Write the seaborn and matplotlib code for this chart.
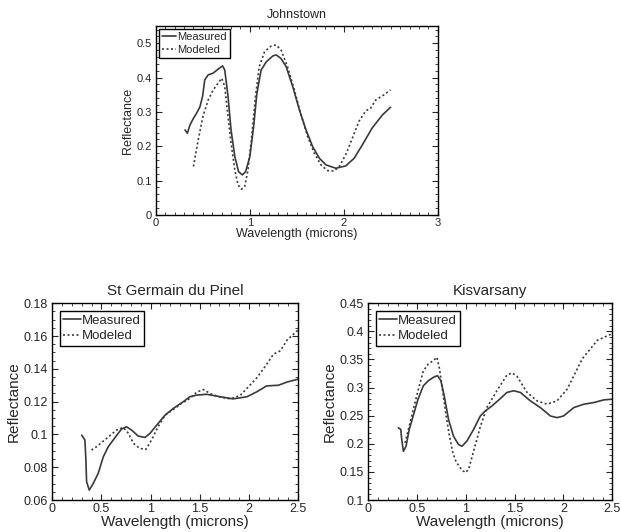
import numpy as np
import pandas as pd
import seaborn as sns
import matplotlib.pyplot as plt
from matplotlib.ticker import MultipleLocator, FormatStrFormatter

# Johnstown
jt_meas_x = [0.31, 0.335, 0.363, 0.40, 0.433, 0.469, 0.497, 0.52, 0.557, 0.61, 0.66, 0.71, 0.733,
             0.768, 0.80, 0.84, 0.88, 0.92, 0.955, 1.0, 1.04, 1.075, 1.12, 1.175, 1.245, 1.28,
             1.33, 1.386, 1.456, 1.527, 1.598, 1.668, 1.74, 1.81, 1.915, 2.02, 2.11, 2.197,
             2.30, 2.41, 2.497]
jt_meas_y = [0.2475, 0.238, 0.262, 0.2815, 0.296, 0.315, 0.345, 0.393, 0.408, 0.413, 0.424, 0.434, 0.422,
             0.345, 0.2475, 0.170, 0.126, 0.1165, 0.126, 0.170, 0.257, 0.354, 0.422, 0.446, 0.463, 0.466,
             0.456, 0.432, 0.374, 0.306, 0.2475, 0.199, 0.165, 0.1456, 0.136, 0.1427, 0.165, 0.204,
             0.2525, 0.291, 0.3136]
jt_mod_x = [0.40, 0.45, 0.50, 0.557, 0.61, 0.66, 0.70, 0.733, 0.768, 0.80, 0.84, 0.875, 0.91, 0.945,
            0.98, 1.016, 1.06, 1.10, 1.157, 1.227, 1.28, 1.333, 1.40, 1.474, 1.545, 1.615, 1.686,
            1.757, 1.827, 1.897, 1.95, 2.02, 2.09, 2.16, 2.233, 2.286, 2.34, 2.41, 2.497]
jt_mod_y = [0.141, 0.218, 0.286, 0.335, 0.364, 0.383, 0.398, 0.374, 0.286, 0.209, 0.131, 0.087, 0.075, 0.082,
            0.131, 0.218, 0.345, 0.432, 0.4755, 0.492, 0.495, 0.480, 0.432, 0.364, 0.291, 0.228, 0.180,
            0.1456, 0.129, 0.128, 0.141, 0.175, 0.223, 0.272, 0.303, 0.311, 0.335, 0.3465, 0.364]

# St Germain du Pinel
sg_meas_x = [0.30, 0.333, 0.343, 0.35, 0.377, 0.418, 0.468, 0.52, 0.57, 0.64, 0.705, 0.756, 0.807,
             0.875, 0.944, 0.995, 1.063, 1.148, 1.232, 1.334, 1.40, 1.47, 1.57, 1.71, 1.84, 1.98,
             2.08, 2.18, 2.30, 2.39, 2.50]
sg_meas_y = [0.0996, 0.0966, 0.0844, 0.0712, 0.0661, 0.0702, 0.0763, 0.0864, 0.0925, 0.0982, 0.1033, 0.1047, 0.1027,
             0.0990, 0.0982, 0.1007, 0.1057, 0.1118, 0.1159, 0.1200, 0.1230, 0.1240, 0.1245, 0.1230, 0.1217, 0.1230,
             0.1260, 0.1296, 0.1300, 0.1320, 0.1337]
sg_mod_x = [0.40, 0.45, 0.553, 0.655, 0.724, 0.775, 0.826, 0.89, 0.953, 1.01, 1.077, 1.148, 1.248, 1.316,
            1.40, 1.47, 1.54, 1.61, 1.71, 1.81, 1.91, 2.01, 2.08, 2.18, 2.25, 2.32, 2.39, 2.50]
sg_mod_y = [0.0905, 0.0925, 0.0976, 0.1027, 0.1043, 0.1007, 0.0946, 0.0915, 0.0909, 0.0966, 0.1047, 0.1118, 0.1159, 0.1190,
            0.1220, 0.1258, 0.1274, 0.1248, 0.1227, 0.1217, 0.1237, 0.1300, 0.1345, 0.1427, 0.1490, 0.1510, 0.1577, 0.1637]

# Kisvarsany
kv_meas_x = [0.308, 0.333, 0.343, 0.36, 0.387, 0.42, 0.46, 0.51, 0.565, 0.616, 0.668, 0.709, 0.744,
             0.778, 0.822, 0.873, 0.925, 0.96, 1.01, 1.079, 1.148, 1.199, 1.268, 1.35, 1.421, 1.49,
             1.558, 1.66, 1.763, 1.866, 1.935, 2.00, 2.106, 2.209, 2.312, 2.414, 2.50]
kv_meas_y = [0.2287, 0.2256, 0.2077, 0.1867, 0.1957, 0.2256, 0.2495, 0.2795, 0.3034, 0.3123, 0.3184, 0.3213, 0.3123,
             0.2854, 0.2436, 0.2136, 0.1987, 0.1957, 0.2047, 0.2256, 0.2495, 0.2585, 0.2675, 0.2800, 0.2914, 0.2944,
             0.2914, 0.2765, 0.2645, 0.2495, 0.2466, 0.2495, 0.2645, 0.2705, 0.2735, 0.2782, 0.2794]
kv_mod_x = [0.377, 0.411, 0.462, 0.514, 0.565, 0.616, 0.668, 0.703, 0.73, 0.764, 0.798, 0.832, 0.867, 0.90,
            0.94, 0.97, 1.0, 1.03, 1.06, 1.10, 1.147, 1.216, 1.318, 1.421, 1.473, 1.524, 1.627, 1.729,
            1.832, 1.935, 2.038, 2.106, 2.192, 2.277, 2.346, 2.50]
kv_mod_y = [0.2017, 0.2256, 0.2615, 0.2974, 0.330, 0.3423, 0.348, 0.354, 0.3333, 0.2915, 0.2495, 0.2136, 0.1838, 0.1680,
            0.1580, 0.1520, 0.1490, 0.1560, 0.1750, 0.2000, 0.2300, 0.2650, 0.2944, 0.3225, 0.3261, 0.3200, 0.2914, 0.2765,
            0.2705, 0.2765, 0.2974, 0.3213, 0.3512, 0.3692, 0.3841, 0.3960]


def make_df(mx, my, dx, dy):
    a = pd.DataFrame({'wavelength': mx, 'reflectance': my, 'series': 'Measured'})
    b = pd.DataFrame({'wavelength': dx, 'reflectance': dy, 'series': 'Modeled'})
    return pd.concat([a, b], ignore_index=True)


def fmt_g(v, pos):
    return '%g' % round(v, 6)


sns.set_style('ticks')
plt.rcParams['font.family'] = ['Liberation Sans', 'DejaVu Sans']
plt.rcParams['xtick.direction'] = 'in'
plt.rcParams['ytick.direction'] = 'in'

fig = plt.figure(figsize=(6.21, 5.32), dpi=100)
ax_top = fig.add_axes([0.251, 0.596, 0.454, 0.355])
ax_bl = fig.add_axes([0.084, 0.060, 0.396, 0.370])
ax_br = fig.add_axes([0.593, 0.060, 0.393, 0.370])

panels = [
    (ax_top, make_df(jt_meas_x, jt_meas_y, jt_mod_x, jt_mod_y), 'Johnstown',
     (0, 3), (0, 0.55), 1, 0.1, 0.1, 0.02, 'small'),
    (ax_bl, make_df(sg_meas_x, sg_meas_y, sg_mod_x, sg_mod_y), 'St Germain du Pinel',
     (0, 2.5), (0.06, 0.18), 0.5, 0.1, 0.02, 0.005, 'big'),
    (ax_br, make_df(kv_meas_x, kv_meas_y, kv_mod_x, kv_mod_y), 'Kisvarsany',
     (0, 2.5), (0.1, 0.45), 0.5, 0.1, 0.05, 0.01, 'big'),
]

for ax, df, title, xl, yl, xmaj, xmin, ymaj, ymin, size in panels:
    if size == 'small':
        tick_fs, lab_fs, leg_fs = 8, 9, 8
    else:
        tick_fs, lab_fs, leg_fs = 9, 11, 9.5
    sns.lineplot(data=df, x='wavelength', y='reflectance', style='series',
                 dashes={'Measured': '', 'Modeled': (1.2, 1.5)},
                 color='#3a3a3a', linewidth=1.2, sort=False, estimator=None, ax=ax)
    ax.set_xlim(*xl)
    ax.set_ylim(*yl)
    ax.xaxis.set_major_locator(MultipleLocator(xmaj))
    ax.xaxis.set_minor_locator(MultipleLocator(xmin))
    ax.yaxis.set_major_locator(MultipleLocator(ymaj))
    ax.yaxis.set_minor_locator(MultipleLocator(ymin))
    ax.xaxis.set_major_formatter(plt.FuncFormatter(fmt_g))
    ax.yaxis.set_major_formatter(plt.FuncFormatter(fmt_g))
    ax.tick_params(which='both', direction='in', top=True, right=True, labelsize=tick_fs)
    ax.tick_params(axis='x', pad=2)
    ax.tick_params(axis='y', pad=3)
    ax.tick_params(which='major', length=4, width=0.8)
    ax.tick_params(which='minor', length=2, width=0.6)
    for s in ax.spines.values():
        s.set_linewidth(1.0)
        s.set_color('black')
    ax.set_title(title, fontsize=lab_fs, pad=6)
    ax.set_xlabel('Wavelength (microns)', fontsize=lab_fs, labelpad=0)
    ax.set_ylabel('Reflectance', fontsize=lab_fs, labelpad=2)
    leg = ax.legend(loc='upper left', fontsize=leg_fs, frameon=True, fancybox=False,
                    handlelength=1.3, handletextpad=0.1, borderpad=0.25,
                    labelspacing=0.25, borderaxespad=0.3 if size == 'small' else 0.6)
    leg.get_frame().set_edgecolor('black')
    leg.get_frame().set_linewidth(1.0)
    leg.get_frame().set_alpha(1)

fig.savefig('out.png', dpi=100)
